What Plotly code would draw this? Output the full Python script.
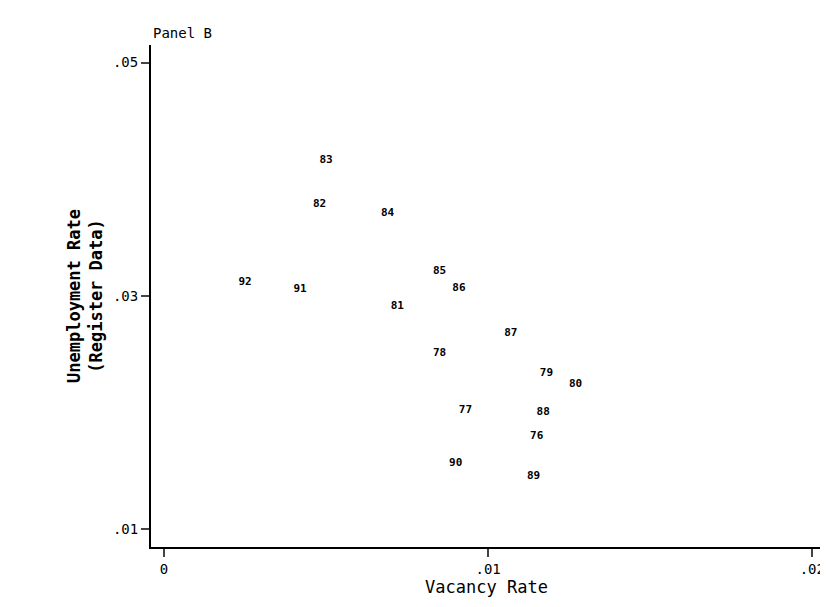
import plotly.graph_objects as go

years = ["83", "82", "84", "85", "86", "92", "91", "81", "87", "78",
         "79", "80", "77", "88", "76", "90", "89"]
vacancy = [0.0050, 0.0048, 0.0069, 0.0085, 0.0091, 0.0025, 0.0042, 0.0072, 0.0107, 0.0085,
           0.0118, 0.0127, 0.0093, 0.0117, 0.0115, 0.0090, 0.0114]
unemployment = [0.0416, 0.0379, 0.0371, 0.0321, 0.0307, 0.0312, 0.0306, 0.0291, 0.0268, 0.0251,
                0.0234, 0.0224, 0.0202, 0.0200, 0.0180, 0.0157, 0.0146]

font = dict(family="DejaVu Sans Mono", size=14, color="black")

fig = go.Figure(go.Scatter(
    x=vacancy, y=unemployment, mode="text", text=["<b>%s</b>" % t for t in years],
    textfont=dict(family="DejaVu Sans Mono", size=11, color="black"),
    hoverinfo="skip",
))

fig.update_layout(
    width=828, height=607,
    margin=dict(l=143, r=14, t=37, b=68, autoexpand=False),
    paper_bgcolor="white", plot_bgcolor="white",
    showlegend=False, font=font,
    annotations=[dict(text="Panel B", x=0, y=1.003, xref="paper", yref="paper",
                      xanchor="left", yanchor="bottom", showarrow=False,
                      font=dict(family="DejaVu Sans Mono", size=14))],
)
fig.update_xaxes(
    range=[-0.0004, 0.0203], tickvals=[0, 0.01, 0.02], ticktext=["0", ".01", ".02"],
    showgrid=False, zeroline=False, showline=True, linecolor="black", linewidth=2,
    ticks="outside", ticklen=8, tickwidth=2, automargin=False,
    title=dict(text="Vacancy Rate", standoff=2),
)
fig.update_yaxes(
    range=[0.0085, 0.0515], tickvals=[0.01, 0.03, 0.05], ticktext=[".01", ".03", ".05"],
    showgrid=False, zeroline=False, showline=True, linecolor="black", linewidth=2,
    ticks="outside", ticklen=8, tickwidth=2, automargin=False,
    title=dict(text="<b>Unemployment Rate<br>(Register Data)</b>", standoff=6),
)

fig.write_html("out.html")
